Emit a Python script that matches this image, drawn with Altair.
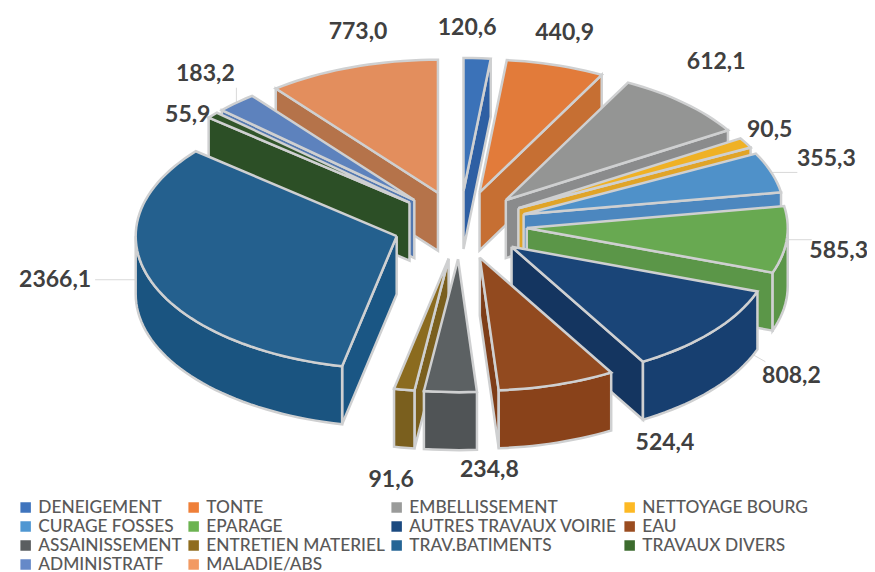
import math
import altair as alt
import pandas as pd

# ---- data ----
categories = ["DENEIGEMENT", "TONTE", "EMBELLISSEMENT", "NETTOYAGE BOURG", "CURAGE FOSSES", "EPARAGE",
              "AUTRES TRAVAUX VOIRIE", "EAU", "ASSAINISSEMENT", "ENTRETIEN MATERIEL", "TRAV.BATIMENTS",
              "TRAVAUX DIVERS", "ADMINISTRATF", "MALADIE/ABS"]
values = [120.6, 440.9, 612.1, 90.5, 355.3, 585.3, 808.2, 524.4, 234.8, 91.6, 2366.1, 55.9, 183.2, 773.0]

# ---- styles ----
legend_colors = ["#3f74bd", "#ef7f38", "#9a9b9a", "#fdb924", "#4f97d2", "#6cb351", "#1b4a80", "#9a4c20",
                 "#5a5e60", "#8f6c1e", "#256595", "#3c6b2e", "#6689c8", "#f29a63"]
top_colors = ["#3b72b8", "#e27b3a", "#949594", "#efb125", "#4f91c9", "#68a951", "#1a4578", "#924a1f",
              "#5c6163", "#8b6b1f", "#24608e", "#31552a", "#5d82bd", "#e38e5d"]
side_colors = ["#2e5fa3", "#c66f33", "#8a8b8c", "#e0a428", "#4c87bf", "#5b9648", "#173f70", "#89421a",
               "#505456", "#7a5f1e", "#1a5480", "#2c4f26", "#5378b0", "#b5734a"]
cut_colors = ["#2e5fa3", "#c66f33", "#8a8b8c", "#e0a428", "#4c87bf", "#5b9648", "#143560", "#7e3d18",
              "#505456", "#7a5f1e", "#1a5684", "#2c4f26", "#5378b0", "#b5734a"]
edge = "#cfd0d1"

# ---- projection of the exploded pie ----
CX, CY, RX, RY, EXPLODE, DEPTH = 460, 225, 261, 133, 67, 58
SQUASH = RY / RX
label_offsets = [(-10, -30), (9, -32), (32, -41), (24, -13), (55, -13), (52, 11), (79, 44), (108, 58),
                 (39, 78), (-13, 90), (-95, 0), (-25, 0), (-31, -29), (6, -35)]
leader_ends = {4: (26, 0), 5: (25, 0), 6: (53, 30), 10: (-55, 0), 12: (0, -15)}

total = sum(values)
rows, text_rows, leader_rows = [], [], []
slices = []
acc = 0.0
for i, v in enumerate(values):
    a0 = acc / total * 360
    acc += v
    a1 = acc / total * 360
    slices.append((i, a0, a1, (a0 + a1) / 2))


def arc(ax, ay, a0, a1):
    n = max(2, int((a1 - a0) / 2) + 2)
    pts = []
    for j in range(n):
        t = math.radians(a0 + (a1 - a0) * j / (n - 1))
        pts.append((ax + RX * math.sin(t), ay - RY * math.cos(t)))
    return pts


def add_face(name, shade, pts):
    pts = pts + [pts[0]]
    for o, (x, y) in enumerate(pts):
        rows.append({"face": name, "shade": shade, "o": o, "x": x, "y": y})


for i, a0, a1, am in sorted(slices, key=lambda s: -math.cos(math.radians(s[3]))):
    t = math.radians(am)
    ax = CX + EXPLODE * math.sin(t)
    ay = CY - EXPLODE * SQUASH * math.cos(t)
    pts = arc(ax, ay, a0, a1)
    # cut faces that look at the viewer
    if math.sin(math.radians(a0)) < 0:
        p = pts[0]
        add_face(f"{i}c0", f"c{i}", [(ax, ay), p, (p[0], p[1] + DEPTH), (ax, ay + DEPTH)])
    if math.sin(math.radians(a1)) > 0:
        p = pts[-1]
        add_face(f"{i}c1", f"c{i}", [(ax, ay), p, (p[0], p[1] + DEPTH), (ax, ay + DEPTH)])
    # outer wall
    lo, hi = max(a0, 90), min(a1, 270)
    if hi > lo:
        w = arc(ax, ay, lo, hi)
        add_face(f"{i}w", f"s{i}", w + [(x, y + DEPTH) for x, y in reversed(w)])
    # top face
    add_face(f"{i}t", f"t{i}", [(ax, ay)] + pts)
    # label and leader
    mx = ax + RX * math.sin(t)
    my = ay - RY * math.cos(t)
    dx, dy = label_offsets[i]
    text_rows.append({"x": mx + dx, "y": my + dy, "label": f"{values[i]:.1f}".replace(".", ",")})
    if i in leader_ends:
        ex, ey = leader_ends[i]
        leader_rows += [{"id": i, "o": 0, "x": mx, "y": my}, {"id": i, "o": 1, "x": mx + ex, "y": my + ey}]

faces = pd.DataFrame(rows)
labels = pd.DataFrame(text_rows)
leaders = pd.DataFrame(leader_rows)
# the legend's carrier points sit under the largest slice's top face
keys = pd.DataFrame({"name": categories, "x": [CX - 200] * len(categories), "y": [CY + 20] * len(categories)})

shade_keys = [f"t{i}" for i in range(14)] + [f"s{i}" for i in range(14)] + [f"c{i}" for i in range(14)]
shade_vals = top_colors + side_colors + cut_colors

X = alt.X("x:Q", axis=None, scale=alt.Scale(domain=[8, 867], nice=False, zero=False))
Y = alt.Y("y:Q", axis=None, scale=alt.Scale(domain=[572, 8], nice=False, zero=False))

legend_layer = alt.Chart(keys).mark_square(size=1).encode(
    x=X, y=Y,
    color=alt.Color("name:N", sort=categories,
                    scale=alt.Scale(domain=categories, range=legend_colors),
                    legend=alt.Legend(title=None, orient="none", legendX=9, legendY=490, columns=4,
                                      direction="horizontal",
                                      symbolType="square", symbolSize=110, symbolStrokeWidth=0,
                                      labelFont="Lato", labelFontSize=17.3, labelColor="#595959",
                                      labelFontWeight=500, labelLimit=300, columnPadding=3, rowPadding=0,
                                      symbolOpacity=1, labelOffset=4, clipHeight=19,
                                      gridAlign="each")))

leader_layer = alt.Chart(leaders).mark_line(color="#d9d9d9", strokeWidth=1).encode(
    x=X, y=Y, detail="id:N", order="o:Q")

face_layer = alt.Chart(faces).mark_line(stroke=edge, strokeWidth=2.5, strokeJoin="miter").encode(
    x=X, y=Y, detail="face:N", order="o:Q",
    fill=alt.Fill("shade:N", scale=alt.Scale(domain=shade_keys, range=shade_vals), legend=None))

text_layer = alt.Chart(labels).mark_text(font="Lato", fontWeight="bold", fontSize=23, color="#404040",
                                         align="center", baseline="middle").encode(
    x=X, y=Y, text="label:N")

chart = alt.layer(legend_layer, leader_layer, face_layer, text_layer).resolve_scale(
    color="independent").properties(
    width=859, height=564, padding=0, autosize=alt.AutoSizeParams(type="none"),
    background="#ffffff").configure_view(stroke=None)

chart.save("out.html", embed_options={"renderer": "svg", "actions": False})
